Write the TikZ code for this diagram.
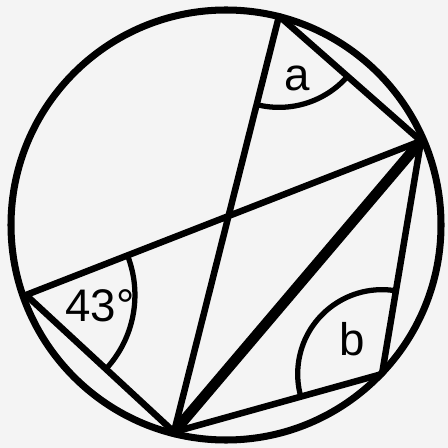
\documentclass[tikz,border=0pt]{standalone}
\usepackage{fontspec}
\setmainfont{Liberation Sans}
\usetikzlibrary{angles}
\tikzset{
    rim/.style={line width=4pt},
    chord/.style={line width=3.7pt, line join=round, line cap=round},
    heavychord/.style={line width=6pt, line cap=round},
    anglearc/.style={draw, line width=3pt},
    anglelabel/.style={inner sep=0pt, font=\fontsize{26}{30}\selectfont}
}

\begin{document}
\begin{tikzpicture}[x=0.02cm, y=-0.02cm]
    \useasboundingbox (0,0) rectangle (448,448);
    \fill[gray!9] (0,0) rectangle (448,448);

    % points on the circle
    \coordinate (O) at (226,225);
    \coordinate (A) at (279,16);
    \coordinate (B) at (421,141);
    \coordinate (C) at (26,295);
    \coordinate (D) at (174,432);
    \coordinate (E) at (382,374);

    \draw[rim] (O) circle[radius=215];

    % chords
    \draw[chord] (D) -- (A) -- (B) -- (C) -- (D);
    \draw[chord] (B) -- (E) -- (D);
    \draw[heavychord] (D) -- (B);

    % marked angles
    \pic[anglearc, angle radius=52pt] {angle = D--A--B};
    \pic[anglearc, angle radius=62pt] {angle = D--C--B};
    \pic[anglearc, angle radius=48pt] {angle = B--E--D};

    \node[anglelabel] (la) at (297,78) {a};
    \node[anglelabel] (lc) at (100,306) {43°};
    \node[anglelabel] (lb) at (352,339) {b};
\end{tikzpicture}
\end{document}
